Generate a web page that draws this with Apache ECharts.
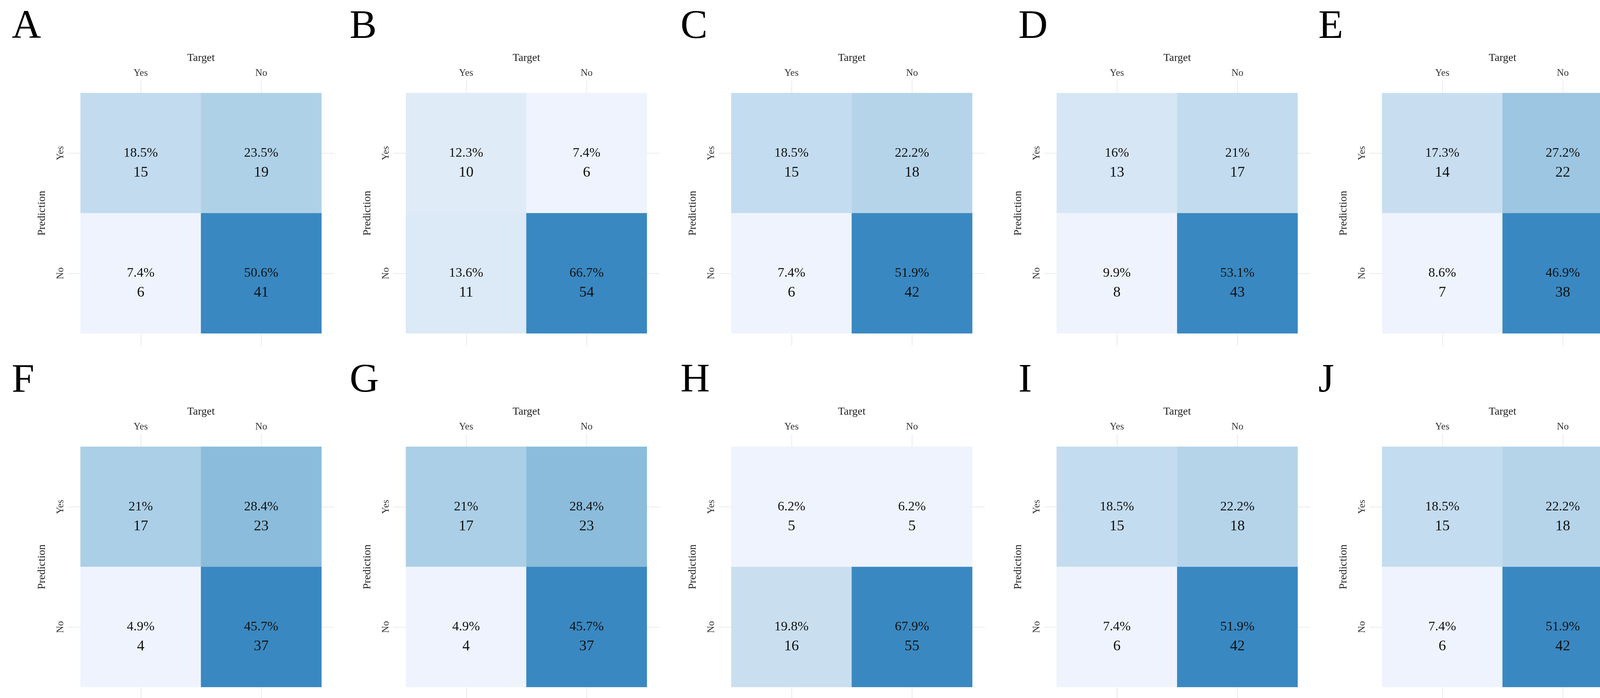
<!DOCTYPE html>
<html>
<head>
<meta charset="utf-8">
<script src="https://cdn.jsdelivr.net/npm/echarts@6/dist/echarts.min.js"></script>
<style>html,body{margin:0;padding:0;background:#fff}#main{width:4175px;height:1786px}</style>
</head>
<body>
<div id="main"></div>
<script>
var panels = ['A', 'B', 'C', 'D', 'E', 'F', 'G', 'H', 'I', 'J']
var targets = ['Yes', 'No']
var predictions = ['Yes', 'No']
// counts per panel: [predYes/targetYes, predYes/targetNo, predNo/targetYes, predNo/targetNo]
var countsA = [15, 19, 6, 41]
var countsB = [10, 6, 11, 54]
var countsC = [15, 18, 6, 42]
var countsD = [13, 17, 8, 43]
var countsE = [14, 22, 7, 38]
var countsF = [17, 23, 4, 37]
var countsG = [17, 23, 4, 37]
var countsH = [5, 5, 16, 55]
var countsI = [15, 18, 6, 42]
var countsJ = [15, 18, 6, 42]
var allCounts = [countsA, countsB, countsC, countsD, countsE, countsF, countsG, countsH, countsI, countsJ]

var font = 'Liberation Serif'
var gridCol = '#ebebeb'
var letterX = [30, 895, 1742, 2607, 3375]

var grids = [], xAxes = [], yAxes = [], series = [], visualMaps = [], graphics = []

allCounts.forEach(function (counts, i) {
  var col = i % 5, row = Math.floor(i / 5)
  var total = counts.reduce(function (a, b) { return a + b }, 0)
  grids.push({ left: 206 + col * 833, top: 238 + row * 905, width: 617, height: 615 })
  var tick = { show: true, alignWithLabel: true, length: 32, inside: false, lineStyle: { color: gridCol, width: 2 } }
  xAxes.push({
    type: 'category', gridIndex: i, position: 'top', data: targets,
    name: 'Target', nameLocation: 'middle', nameGap: 75,
    nameTextStyle: { fontFamily: font, fontSize: 28, color: '#222' },
    axisLine: { show: false }, axisTick: tick, splitLine: { show: false },
    axisLabel: { fontFamily: font, fontSize: 25, color: '#333', margin: 38 }
  })
  xAxes.push({
    type: 'category', gridIndex: i, position: 'bottom', data: targets,
    axisLine: { show: false }, axisTick: tick, axisLabel: { show: false }
  })
  yAxes.push({
    type: 'category', gridIndex: i, position: 'left', data: predictions, inverse: true,
    name: 'Prediction', nameLocation: 'middle', nameGap: 84,
    nameTextStyle: { fontFamily: font, fontSize: 28, color: '#222' },
    axisLine: { show: false }, axisTick: tick,
    axisLabel: { fontFamily: font, fontSize: 25, color: '#333', rotate: 90, margin: 38 }
  })
  yAxes.push({
    type: 'category', gridIndex: i, position: 'right', data: predictions, inverse: true,
    axisLine: { show: false }, axisTick: tick, axisLabel: { show: false }
  })
  var data = []
  counts.forEach(function (c, k) {
    var pct = Math.round(c / total * 1000) / 10
    data.push({ value: [k % 2, Math.floor(k / 2), c], pct: pct })
  })
  series.push({
    type: 'heatmap', xAxisIndex: i * 2, yAxisIndex: i * 2, data: data,
    label: {
      show: true, offset: [0, 25],
      formatter: function (p) { return '{p|' + p.data.pct + '%}\n{c|' + p.data.value[2] + '}' },
      rich: {
        p: { fontFamily: font, fontSize: 34, color: '#111', lineHeight: 50 },
        c: { fontFamily: font, fontSize: 38, color: '#111', lineHeight: 50 }
      }
    },
    itemStyle: { borderWidth: 0 },
    emphasis: { disabled: true }
  })
  visualMaps.push({
    show: false, seriesIndex: i, dimension: 2,
    min: Math.min.apply(null, counts), max: Math.max.apply(null, counts),
    inRange: { color: ['#eef3fd', '#99c5e0', '#3a88c1'] }
  })
  graphics.push({
    type: 'text', left: letterX[col], top: 18 + row * 905,
    style: { text: panels[i], font: '104px "Liberation Serif"', fill: '#000' }
  })
})

var chart = echarts.init(document.getElementById('main'))
chart.setOption({
  backgroundColor: '#fff',
  animation: false,
  grid: grids,
  xAxis: xAxes,
  yAxis: yAxes,
  visualMap: visualMaps,
  series: series,
  graphic: graphics
})
</script>
</body>
</html>
